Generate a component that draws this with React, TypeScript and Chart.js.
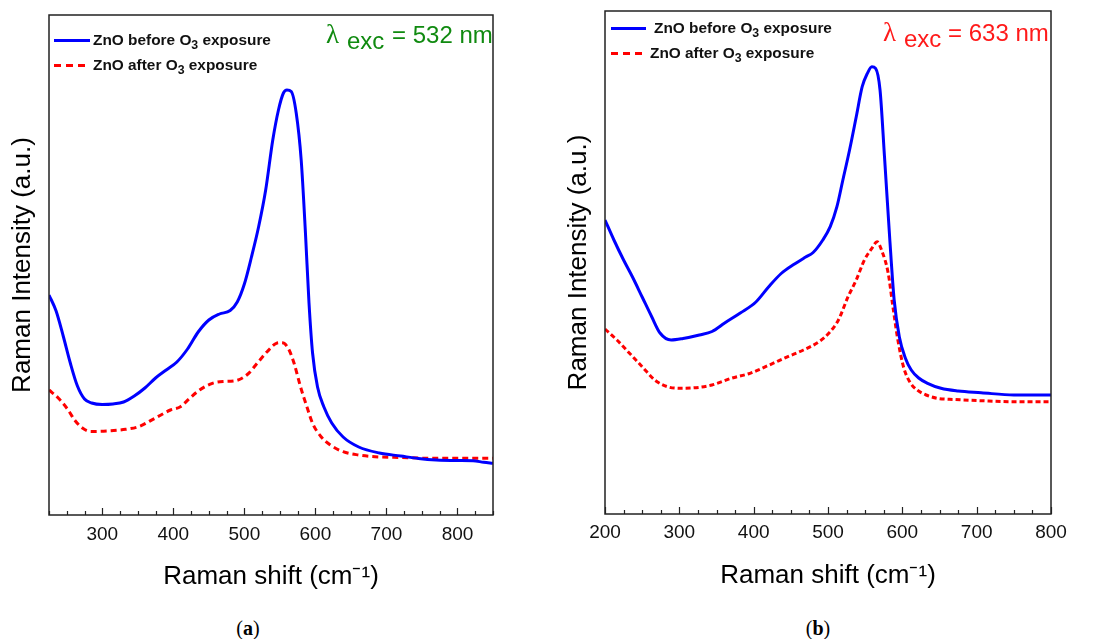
import React, { useEffect, useRef } from "react";
import { Chart, registerables } from "chart.js";

Chart.register(...registerables);

// ---------- Panel (a): excitation 532 nm ----------
const shiftBeforeA = [225, 235, 245, 255, 265, 275, 285, 300, 315, 330, 345, 360, 375, 390, 405, 420, 435, 450, 465, 480, 490, 500, 510, 520, 530, 540, 548, 555, 560, 566, 573, 580, 586, 591, 596, 603, 612, 623, 639, 661, 690, 720, 745, 770, 800, 822, 837, 850];
const intensityBeforeA = [220, 204, 179, 152, 129, 116, 112, 110.5, 111, 113, 119, 127, 137, 145, 153, 166, 183, 195, 201, 204.5, 213, 231, 258, 288, 325, 375, 405, 422, 425, 423.5, 402, 355, 282, 212, 162, 128, 108, 92, 78, 68, 62, 59, 56.5, 55, 54.5, 54.3, 52.7, 51.7];
const shiftAfterA = [225, 238, 252, 261, 272, 284, 306, 333, 351, 374, 396, 410, 423, 437, 455, 470, 487, 505, 518, 532, 545, 552, 556, 563, 570, 579, 588, 596, 608, 621, 639, 661, 684, 720, 766, 850];
const intensityAfterA = [125, 117, 105, 95, 87, 83.5, 84, 85.7, 88.3, 96.7, 105, 108.3, 116.7, 125, 131.7, 133.5, 134.2, 141, 151.7, 163.3, 171.7, 172.3, 171.7, 165, 151.7, 128.3, 108.3, 91.7, 78.3, 70, 63.3, 60, 58.3, 57.5, 56.7, 56.7];
const xRangeA = [225, 850];
const labeledTicksA = [300, 400, 500, 600, 700, 800];

// ---------- Panel (b): excitation 633 nm ----------
const shiftBeforeB = [200, 212, 225, 237, 250, 263, 274, 289, 305, 327, 344, 361, 382, 403, 420, 437, 455, 470, 480, 493, 503, 512, 520, 529, 538, 546, 553, 559, 564, 570, 576, 583, 589, 596, 604, 612, 622, 634, 652, 675, 706, 750, 800];
const intensityBeforeB = [294, 274, 254, 237, 217, 197, 181, 174, 175.5, 179, 182.5, 191, 201, 212, 227, 240.5, 250, 257, 261.5, 274, 287.3, 307.3, 334, 364, 397.3, 427.3, 440.7, 447.3, 445.7, 424, 357.3, 276, 214, 177, 156, 144, 136, 130.7, 125.7, 123, 121.3, 119, 119];
const shiftAfterB = [200, 216, 233, 250, 267, 284, 301, 327, 344, 370, 395, 421, 446, 467, 488, 501, 514, 527, 538, 549, 559, 566, 572, 581, 587, 594, 602, 611, 620, 632, 647, 670, 706, 750, 800];
const intensityAfterB = [185, 174, 160.7, 147.3, 134, 127.3, 125.7, 126.7, 129, 135.7, 140.7, 149, 157.3, 164, 172.3, 180.7, 194, 217.3, 234, 254, 265.7, 272.3, 264, 240.7, 209, 174, 146, 131, 124, 119, 115.7, 114.5, 113.3, 112.3, 112.3];
const xRangeB = [200, 800];
const labeledTicksB = [200, 300, 400, 500, 600, 700, 800];

const seriesNames = ["ZnO before O3 exposure", "ZnO after O3 exposure"];
const seriesColors = ["#0000ff", "#ff0000"];
const minorTickStep = 25;
const majorTickStep = 100;

const SANS = "'Liberation Sans', Arial, Helvetica, sans-serif";
const SERIF = "'Liberation Serif', 'Times New Roman', serif";

const framePlugin = {
  id: "frame",
  afterDatasetsDraw(chart: any) {
    const { ctx, chartArea: a, scales } = chart;
    const xs = scales.x;
    ctx.save();
    ctx.strokeStyle = "#222";
    ctx.lineWidth = 1.2;
    ctx.beginPath();
    xs.ticks.forEach((t: any) => {
      const px = Math.round(xs.getPixelForValue(t.value)) + 0.5;
      const len = t.value % majorTickStep === 0 ? 7 : 4;
      ctx.moveTo(px, a.bottom);
      ctx.lineTo(px, a.bottom - len);
    });
    ctx.stroke();
    ctx.lineWidth = 1.5;
    ctx.strokeRect(a.left, a.top, a.right - a.left, a.bottom - a.top);
    ctx.restore();
  },
};

function points(xs: number[], ys: number[]) {
  return xs.map((x, i) => ({ x, y: ys[i] }));
}

function buildConfig(p: any): any {
  const tickValues: number[] = [];
  for (let v = Math.ceil(p.xRange[0] / minorTickStep) * minorTickStep; v <= p.xRange[1]; v += minorTickStep) tickValues.push(v);
  return {
    type: "line",
    data: {
      datasets: [
        {
          label: seriesNames[0],
          data: points(p.bx, p.by),
          borderColor: seriesColors[0],
          borderWidth: 3,
          pointRadius: 0,
          cubicInterpolationMode: "monotone",
          fill: false,
        },
        {
          label: seriesNames[1],
          data: points(p.ax, p.ay),
          borderColor: seriesColors[1],
          borderWidth: 3,
          borderDash: p.dash,
          pointRadius: 0,
          cubicInterpolationMode: "monotone",
          fill: false,
        },
      ],
    },
    options: {
      responsive: false,
      animation: false,
      devicePixelRatio: 1,
      layout: { padding: { left: 0, top: p.padTop, right: p.padRight, bottom: 0 } },
      plugins: { legend: { display: false }, tooltip: { enabled: false }, title: { display: false } },
      scales: {
        x: {
          type: "linear",
          min: p.xRange[0],
          max: p.xRange[1],
          grid: { display: false, drawTicks: false },
          border: { display: false },
          afterBuildTicks: (s: any) => {
            s.ticks = tickValues.map((v) => ({ value: v }));
          },
          ticks: {
            autoSkip: false,
            maxRotation: 0,
            minRotation: 0,
            padding: p.tickPad,
            color: "#111",
            font: { family: SANS, size: 19 },
            callback: (v: any) => (p.labels.includes(v) ? String(v) : ""),
          },
          title: {
            display: true,
            text: "Raman shift (cm⁻¹)",
            color: "#000",
            font: { family: SANS, size: 26 },
            padding: { top: 0, bottom: p.xTitlePad },
          },
          afterFit: (s: any) => {
            s.height = p.xHeight;
          },
        },
        y: {
          type: "linear",
          min: 0,
          max: p.yMax,
          grid: { display: false, drawTicks: false },
          border: { display: false },
          ticks: { display: false },
          title: {
            display: true,
            text: "Raman Intensity (a.u.)",
            color: "#000",
            font: { family: SANS, size: 26 },
            padding: { top: p.yTitlePad, bottom: 0 },
          },
          afterFit: (s: any) => {
            s.width = p.yWidth;
          },
        },
      },
    },
    plugins: [framePlugin],
  };
}

function ChartPanel({ left, config }: { left: number; config: any }) {
  const ref = useRef<HTMLCanvasElement>(null);
  useEffect(() => {
    const chart = new Chart(ref.current as HTMLCanvasElement, config);
    return () => chart.destroy();
  }, []);
  return (
    <canvas
      ref={ref}
      width={548}
      height={600}
      style={{ position: "absolute", left, top: 0, width: 548, height: 600, display: "block" }}
    />
  );
}

function LegendRow({ x, y, w, textX, color, dashed, name }: any) {
  const parts = name.split("O3");
  const sample = dashed
    ? `repeating-linear-gradient(to right, ${color} 0px, ${color} 7px, transparent 7px, transparent 12px)`
    : color;
  return (
    <div>
      <div style={{ position: "absolute", left: x, top: y - 1.5, width: w, height: 3, background: sample }} />
      <div
        style={{
          position: "absolute",
          left: textX,
          top: y - 10,
          lineHeight: "20px",
          fontFamily: SANS,
          fontWeight: "bold",
          fontSize: 15.4,
          color: "#111",
          whiteSpace: "nowrap",
        }}
      >
        {parts[0]}O
        <sub style={{ fontSize: "0.8em", verticalAlign: "-0.3em", lineHeight: 0 }}>3</sub>
        {parts[1]}
      </div>
    </div>
  );
}

function Excitation({ lx, ex, mx, base, color, nm }: any) {
  const common: any = { position: "absolute", whiteSpace: "nowrap", color, lineHeight: "24px", fontSize: 24 };
  return (
    <div>
      <span style={{ ...common, left: lx - 1, top: base - 21, fontFamily: SERIF, fontSize: 27 }}>λ</span>
      <span style={{ ...common, left: ex, top: base + 6 - 20, fontFamily: SANS }}>exc</span>
      <span style={{ ...common, left: mx, top: base - 20, fontFamily: SANS }}>= {nm} nm</span>
    </div>
  );
}

function Caption({ cx, letter }: any) {
  return (
    <div
      style={{
        position: "absolute",
        left: cx - 30,
        top: 616,
        width: 60,
        textAlign: "center",
        lineHeight: "24px",
        fontSize: 20,
        fontFamily: SERIF,
        color: "#000",
      }}
    >
      (<b>{letter}</b>)
    </div>
  );
}

const configA = buildConfig({
  bx: shiftBeforeA, by: intensityBeforeA, ax: shiftAfterA, ay: intensityAfterA,
  xRange: xRangeA, labels: labeledTicksA, yMax: 500, dash: [6, 4],
  padTop: 15, padRight: 55, yWidth: 49, xHeight: 85, tickPad: 8, xTitlePad: 8, yTitlePad: 7,
});

const configB = buildConfig({
  bx: shiftBeforeB, by: intensityBeforeB, ax: shiftAfterB, ay: intensityAfterB,
  xRange: xRangeB, labels: labeledTicksB, yMax: 503, dash: [5, 3],
  padTop: 11, padRight: 45, yWidth: 57, xHeight: 86, tickPad: 7, xTitlePad: 9, yTitlePad: 15,
});

export default function App() {
  return (
    <div style={{ position: "fixed", left: 0, top: 0, width: 1096, height: 639, background: "#fff", overflow: "hidden" }}>
      <ChartPanel left={0} config={configA} />
      <ChartPanel left={548} config={configB} />

      <LegendRow x={54} y={40} w={36} textX={93} color={seriesColors[0]} dashed={false} name={seriesNames[0]} />
      <LegendRow x={54} y={65} w={31} textX={93} color={seriesColors[1]} dashed={true} name={seriesNames[1]} />
      <LegendRow x={611} y={28} w={35} textX={654} color={seriesColors[0]} dashed={false} name={seriesNames[0]} />
      <LegendRow x={611} y={53} w={31} textX={650} color={seriesColors[1]} dashed={true} name={seriesNames[1]} />

      <Excitation lx={327} ex={347} mx={392} base={43} color="#108a10" nm="532" />
      <Excitation lx={884} ex={904} mx={948} base={41} color="#ff1a1a" nm="633" />

      <Caption cx={248} letter="a" />
      <Caption cx={818} letter="b" />
    </div>
  );
}
